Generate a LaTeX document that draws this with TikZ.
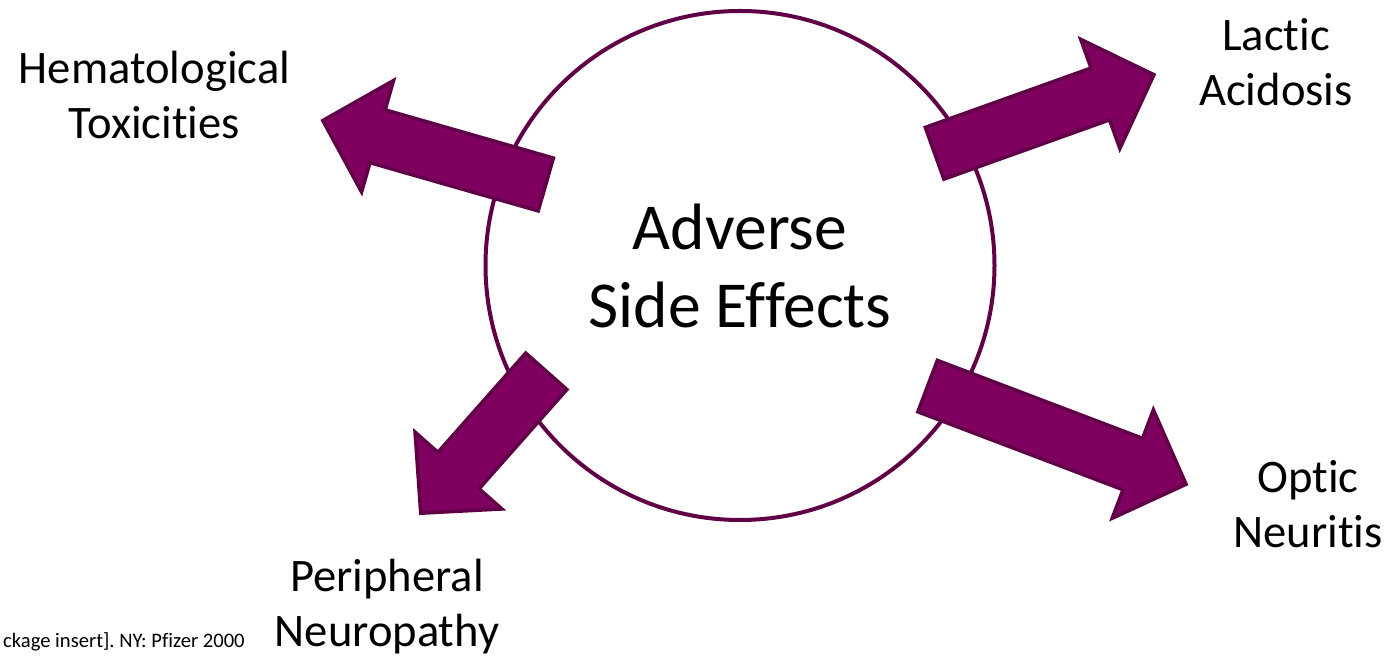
\documentclass[tikz,border=0pt]{standalone}
\usepackage{fontspec}
\setmainfont{Carlito}[Ligatures=NoCommon]
\frenchspacing
\definecolor{arrowfill}{RGB}{128,0,96}
\definecolor{darkplum}{RGB}{96,0,70}
\tikzset{
  blockarrow/.style={fill=arrowfill, draw=darkplum, line width=1.75pt, line join=miter},
  sidelabel/.style={align=center, inner sep=0pt, font=\fontsize{23.3}{27.5}\selectfont},
  hubcircle/.style={circle, draw=darkplum, line width=2pt, fill=white, minimum size=254.5pt,
    inner sep=0pt, align=center, font=\fontsize{32.8}{39}\selectfont},
  footnotetext/.style={inner sep=0pt, font=\fontsize{10.3}{12}\selectfont}
}
% tail-mid x, tail-mid y, angle, length
\newcommand\plumarrow[4]{%
  \begin{scope}[shift={(#1,#2)}, rotate=#3]
    \draw[blockarrow] (0,-27.5) -- ({#4-57},-27.5) -- ({#4-57},-58) -- (#4,0)
      -- ({#4-57},58) -- ({#4-57},27.5) -- (0,27.5) -- cycle;
  \end{scope}}
\begin{document}
\begin{tikzpicture}[x=0.5pt, y=-0.5pt]
  \useasboundingbox (0,0) rectangle (1389,656);
  \fill[white] (0,0) rectangle (1389,656);

  \node[hubcircle] (hub) at (740,265.5) {Adverse\\Side Effects};

  \plumarrow{545.8}{184.5}{164.0}{232}
  \plumarrow{934.6}{153.3}{19.7}{233}
  \plumarrow{927.6}{386.1}{-20.8}{276.5}
  \plumarrow{546.3}{371.3}{-131.5}{189.5}

  \node[sidelabel] (hem) at (154.5,95.5) {Hematological\\Toxicities};
  \node[sidelabel] (lac) at (1276,62.5) {Lactic\\Acidosis};
  \node[sidelabel] (opt) at (1308,504.5) {Optic\\Neuritis};
  \node[sidelabel] (per) at (387,607) {Peripheral\\Neuropathy};
  \node[footnotetext, anchor=base east] (ref) at (245,648) {ckage insert]. NY: Pfizer 2000};
\end{tikzpicture}
\end{document}
